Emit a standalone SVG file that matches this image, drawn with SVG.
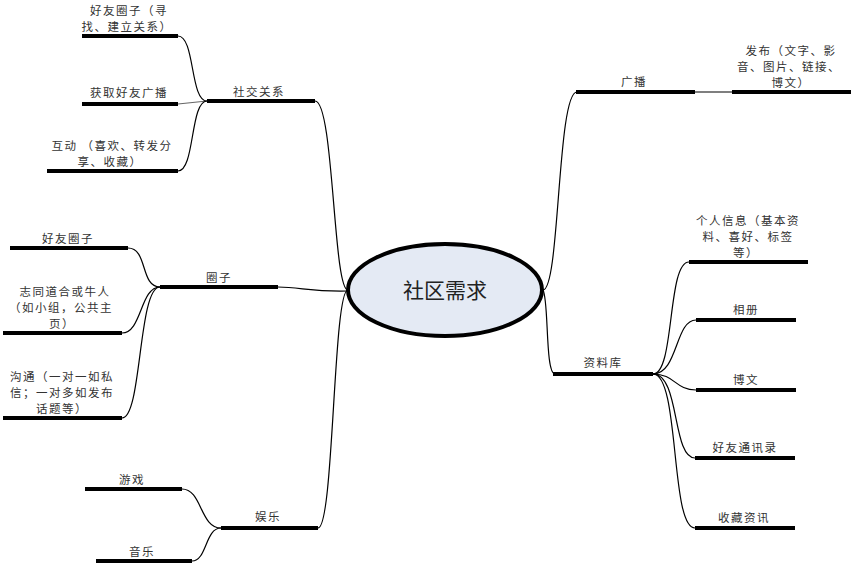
<svg xmlns="http://www.w3.org/2000/svg" width="854" height="564" viewBox="0 0 854 564">
<style>
.bar{stroke:#000;stroke-width:4;fill:none}
.ln{stroke:#000;stroke-width:1.2;fill:none}
.t{font-family:"Noto Sans CJK SC","Liberation Sans",sans-serif;font-size:11.5px;letter-spacing:1.5px;fill:#333;text-anchor:middle}
.c{font-family:"Noto Sans CJK SC","Liberation Sans",sans-serif;font-size:21px;fill:#222;text-anchor:middle}
</style>
<rect width="854" height="564" fill="#fff"/>
<g id="connectors">
<path class="ln" d="M315,101 C334,101 333,290 348,290"/>
<path class="ln" d="M278,287 C300,287 312,292 348,291"/>
<path class="ln" d="M318,528 C334,528 333,290 348,290"/>
<path class="ln" d="M543,290 C560,290 557,92 577,92"/>
<path class="ln" d="M543,290 C549,300 545,374 555,374"/>
<path class="ln" d="M695,92 L732,92"/>
<path class="ln" d="M207,101 C190,101 195,36 178,36"/>
<path class="ln" style="stroke:#666" d="M178,104 L207,101"/>
<path class="ln" d="M207,101 C190,101 195,171 178,171"/>
<path class="ln" d="M160,287 C140,287 148,248 128,248"/>
<path class="ln" d="M160,287 C140,287 142,333 122,333"/>
<path class="ln" d="M160,287 C138,287 142,418 122,418"/>
<path class="ln" d="M221,528 C200,528 202,489 182,489"/>
<path class="ln" d="M221,528 C205,528 207,561 192,561"/>
<path class="ln" d="M653,374 C675,374 667,262 689,262"/>
<path class="ln" d="M653,374 C678,374 675,320 696,320"/>
<path class="ln" d="M653,374 C675,374 675,390 696,390"/>
<path class="ln" d="M653,374 C680,374 672,458 695,458"/>
<path class="ln" d="M653,374 C680,374 670,528 695,528"/>
</g>
<g id="center">
<ellipse cx="445" cy="290" rx="97" ry="46" fill="#e4eaf4" stroke="#000" stroke-width="4"/>
<text class="c" x="445" y="298">社区需求</text>
</g>
<g id="shejiao">
<line class="bar" x1="207" y1="101" x2="315" y2="101"/>
<text class="t" x="259" y="96">社交关系</text>
</g>
<g id="haoyouquanzi1">
<line class="bar" x1="82" y1="36" x2="178" y2="36"/>
<text class="t" x="129" y="15">好友圈子（寻</text>
<text class="t" x="127" y="31">找、建立关系）</text>
</g>
<g id="huoqu">
<line class="bar" x1="82" y1="104" x2="178" y2="104"/>
<text class="t" x="129" y="97">获取好友广播</text>
</g>
<g id="hudong">
<line class="bar" x1="47" y1="171" x2="178" y2="171"/>
<text class="t" x="112" y="150">互动 （喜欢、转发分</text>
<text class="t" x="110" y="166">享、收藏）</text>
</g>
<g id="quanzi">
<line class="bar" x1="160" y1="287" x2="278" y2="287"/>
<text class="t" x="219" y="282">圈子</text>
</g>
<g id="haoyouquanzi2">
<line class="bar" x1="10" y1="248" x2="128" y2="248"/>
<text class="t" x="68" y="243">好友圈子</text>
</g>
<g id="zhitong">
<line class="bar" x1="3" y1="333" x2="122" y2="333"/>
<text class="t" x="65" y="296">志同道合或牛人</text>
<text class="t" x="61" y="312">（如小组，公共主</text>
<text class="t" x="62" y="328">页）</text>
</g>
<g id="goutong">
<line class="bar" x1="3" y1="418" x2="122" y2="418"/>
<text class="t" x="62" y="381">沟通（一对一如私</text>
<text class="t" x="62" y="397">信；一对多如发布</text>
<text class="t" x="62" y="413">话题等）</text>
</g>
<g id="yule">
<line class="bar" x1="221" y1="528" x2="318" y2="528"/>
<text class="t" x="268" y="521">娱乐</text>
</g>
<g id="youxi">
<line class="bar" x1="85" y1="489" x2="182" y2="489"/>
<text class="t" x="132" y="484">游戏</text>
</g>
<g id="yinyue">
<line class="bar" x1="96" y1="561" x2="192" y2="561"/>
<text class="t" x="142" y="556">音乐</text>
</g>
<g id="guangbo">
<line class="bar" x1="576" y1="92" x2="695" y2="92"/>
<text class="t" x="634" y="86">广播</text>
</g>
<g id="fabu">
<line class="bar" x1="732" y1="92" x2="851" y2="92"/>
<text class="t" x="791" y="55">发布（文字、影</text>
<text class="t" x="789" y="71">音、图片、链接、</text>
<text class="t" x="791" y="87">博文）</text>
</g>
<g id="ziliaoku">
<line class="bar" x1="553" y1="374" x2="653" y2="374"/>
<text class="t" x="603" y="367">资料库</text>
</g>
<g id="geren">
<line class="bar" x1="689" y1="262" x2="808" y2="262"/>
<text class="t" x="748" y="225">个人信息（基本资</text>
<text class="t" x="748" y="241">料、喜好、标签</text>
<text class="t" x="746" y="257">等）</text>
</g>
<g id="xiangce">
<line class="bar" x1="696" y1="320" x2="796" y2="320"/>
<text class="t" x="746" y="314">相册</text>
</g>
<g id="bowen">
<line class="bar" x1="696" y1="390" x2="796" y2="390"/>
<text class="t" x="746" y="384">博文</text>
</g>
<g id="tongxunlu">
<line class="bar" x1="695" y1="458" x2="795" y2="458"/>
<text class="t" x="745" y="452">好友通讯录</text>
</g>
<g id="shoucang">
<line class="bar" x1="695" y1="528" x2="795" y2="528"/>
<text class="t" x="744" y="522">收藏资讯</text>
</g>
</svg>
